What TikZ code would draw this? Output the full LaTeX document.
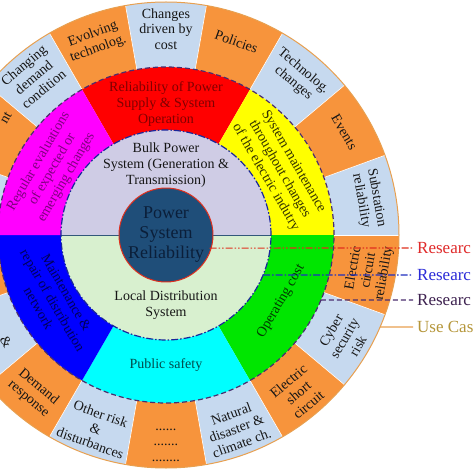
\documentclass[tikz,border=0pt]{standalone}
\usepackage{fontspec}
\setmainfont{Liberation Serif}
\definecolor{cellblue}{HTML}{C6D9EF}
\definecolor{cellorange}{HTML}{F7943C}
\definecolor{secred}{HTML}{FF0000}
\definecolor{secyellow}{HTML}{FFFF00}
\definecolor{secgreen}{HTML}{00E600}
\definecolor{seccyan}{HTML}{00FFFF}
\definecolor{secblue}{HTML}{0000FF}
\definecolor{secmagenta}{HTML}{FF00FF}
\definecolor{lilac}{HTML}{CFCCE5}
\definecolor{lgreen}{HTML}{D8F0CF}
\definecolor{pcblue}{HTML}{1F4E79}
\definecolor{pctext}{HTML}{0B1F3A}
\definecolor{outtext}{HTML}{161616}
\definecolor{lnred}{HTML}{E0301E}
\definecolor{lnblue}{HTML}{1F2FC0}
\definecolor{lnpurple}{HTML}{4A2E6E}
\definecolor{lnorange}{HTML}{E8A050}
\definecolor{txred}{HTML}{E02A2A}
\definecolor{txblue}{HTML}{2B2BD8}
\definecolor{txpurple}{HTML}{3E2250}
\definecolor{txgold}{HTML}{B5963A}
\tikzset{
  outtxt/.style={align=center, font=\fontsize{14}{15.5}\selectfont, text=outtext, inner sep=0pt},
  midtxt/.style={align=center, font=\fontsize{14}{16}\selectfont, inner sep=0pt},
  legtxt/.style={anchor=west, inner xsep=4pt, inner ysep=0pt, font=\fontsize{17}{18}\selectfont},
  redline/.style={draw=lnred, line width=1.2pt, dash pattern=on 7pt off 2pt on 1.5pt off 2pt on 1.5pt off 2pt},
  blueline/.style={draw=lnblue, line width=1.2pt, dash pattern=on 7pt off 2pt on 1.5pt off 2pt},
  purpleline/.style={draw=lnpurple, line width=1.2pt, dash pattern=on 5pt off 3pt},
  orangeline/.style={draw=lnorange, line width=1.2pt},
  celldiv/.style={draw=white, line width=0.6pt},
}
\begin{document}
\begin{tikzpicture}[x=1pt,y=1pt]
\useasboundingbox (-166,-239) rectangle (308,235);
\fill[white] (-166,-239) rectangle (308,235);
% outer ring cells
\foreach \c in {90,50,10,-30,-70,-110,-150,170,130} {
  \fill[cellblue] (\c-10:168pt) arc[start angle=\c-10, end angle=\c+10, radius=168pt] -- (\c+10:233pt) arc[start angle=\c+10, end angle=\c-10, radius=233pt] -- cycle;
}
\foreach \c in {70,30,-10,-50,-90,-130,-170,150,110} {
  \fill[cellorange] (\c-10:168pt) arc[start angle=\c-10, end angle=\c+10, radius=168pt] -- (\c+10:233pt) arc[start angle=\c+10, end angle=\c-10, radius=233pt] -- cycle;
}
\foreach \a in {0,20,...,340} { \draw[celldiv] (\a:168pt) -- (\a:233pt); }
% middle ring sectors
\fill[secred] (0,0) -- (60:168pt) arc[start angle=60, end angle=120, radius=168pt] -- cycle;
\fill[secyellow] (0,0) -- (0:168pt) arc[start angle=0, end angle=60, radius=168pt] -- cycle;
\fill[secgreen] (0,0) -- (-60:168pt) arc[start angle=-60, end angle=0, radius=168pt] -- cycle;
\fill[seccyan] (0,0) -- (-120:168pt) arc[start angle=-120, end angle=-60, radius=168pt] -- cycle;
\fill[secblue] (0,0) -- (180:168pt) arc[start angle=180, end angle=240, radius=168pt] -- cycle;
\fill[secmagenta] (0,0) -- (120:168pt) arc[start angle=120, end angle=180, radius=168pt] -- cycle;
% inner disk
\fill[lilac] (0:105pt) arc[start angle=0, end angle=180, radius=105pt] -- cycle;
\fill[lgreen] (180:105pt) arc[start angle=180, end angle=360, radius=105pt] -- cycle;
\coordinate (dl) at (180:105pt);
\coordinate (dr) at (0:105pt);
\draw[draw=pcblue!80!gray, line width=1pt] (dl) -- (dr);
\draw[blueline, draw=lnblue!80!black] (0,0) circle[radius=105pt];
\draw[purpleline] (0,0) circle[radius=168pt];
\draw[orangeline, line width=1pt] (0,0) circle[radius=233pt];
% middle ring texts
\node[midtxt, text=secred!50!black] (tred) at (90:131pt) {Reliability of Power\\Supply \& System\\Operation};
\node[midtxt, text=secyellow!20!black, rotate=-60] (tyel) at (30:131pt) {System maintenance\\throughout changes\\of the electric indutry};
\node[midtxt, text=secgreen!25!black, rotate=60] (tgrn) at (-30:133pt) {Operating cost};
\node[midtxt, text=seccyan!30!black] (tcya) at (-90:130pt) {Public safety};
\node[midtxt, text=secblue!35!black, rotate=-60] (tblu) at (-150:131pt) {Maintenance \&\\repair of distribution\\network};
\node[midtxt, text=secmagenta!50!black, rotate=60] (tmag) at (150:131pt) {Regular evaluations\\of expected or\\emerging changes};
% inner disk texts
\node[midtxt, text=outtext] (tbulk) at (0,70) {Bulk Power\\System (Generation \&\\Transmission)};
\node[midtxt, text=outtext] (tloc) at (0,-70) {Local Distribution\\System};
% centre
\node[circle, fill=pcblue, draw=lnred, line width=1pt, minimum size=90pt, inner sep=0pt, align=center, text=pctext, font=\fontsize{18}{20}\selectfont] (pcr) at (0,0) {Power\\System\\Reliability};
% outer ring texts
\node[outtxt] (o90) at (90:206pt) {Changes\\driven by\\cost};
\node[outtxt, rotate=-20] (o70) at (70:206pt) {Policies};
\node[outtxt, rotate=-40] (o50) at (50:206pt) {Technolog.\\changes};
\node[outtxt, rotate=-60] (o30) at (30:206pt) {Events};
\node[outtxt, rotate=-80] (o10) at (10:206pt) {Substation\\reliability};
\node[outtxt, rotate=80] (om10) at (-10:206pt) {Electric\\circuit\\reliability};
\node[outtxt, rotate=60] (om30) at (-30:206pt) {Cyber\\security\\risk};
\node[outtxt, rotate=40] (om50) at (-50:206pt) {Electric\\short\\circuit};
\node[outtxt, rotate=20] (om70) at (-70:206pt) {Natural\\disaster \&\\climate ch.};
\node[outtxt] (om90) at (-90:210pt) {......\\.......\\........};
\node[outtxt, rotate=-20] (om110) at (-110:206pt) {Other risk\\\&\\disturbances};
\node[outtxt, rotate=-40] (om130) at (-130:206pt) {Demand\\response};
\node[outtxt, rotate=-60] (om150) at (-160,-107) {\&};
\node[outtxt, rotate=60] (o150) at (-160,117) {nt};
\node[outtxt, rotate=40] (o130) at (130:206pt) {Changing\\demand\\condition};
\node[outtxt, rotate=20] (o110) at (110:206pt) {Evolving\\technolog.};
% legend
\node[legtxt, text=txred] (lg1) at (247,-13) {Researc};
\node[legtxt, text=txblue] (lg2) at (247,-40) {Researc};
\node[legtxt, text=txpurple] (lg3) at (247,-65) {Researc};
\node[legtxt, text=txgold] (lg4) at (247,-92) {Use Cas};
\coordinate (s1) at (-16.8:45.5pt);
\coordinate (s2) at (-22.39:105pt);
\coordinate (s3) at (-22.76:168pt);
\coordinate (s4) at (-23.26:233pt);
\draw[redline] (s1) -- (lg1.west);
\draw[blueline] (s2) -- (lg2.west);
\draw[purpleline] (s3) -- (lg3.west);
\draw[orangeline] (s4) -- (lg4.west);
\end{tikzpicture}
\end{document}
